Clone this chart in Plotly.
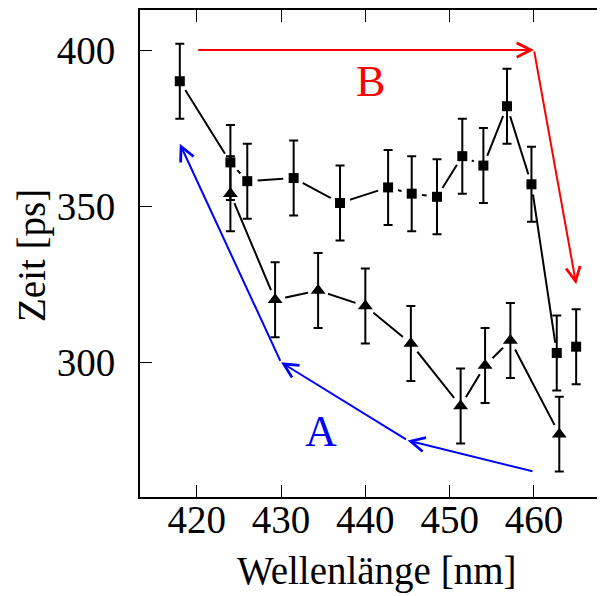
import plotly.graph_objects as go

# ---- data ----
wl_sq = [418, 424, 426, 431.5, 437, 442.7, 445.5, 448.5, 451.5, 454, 456.8, 459.7, 462.7, 465]
t_sq = [390, 364, 358, 359, 351, 356, 354, 353, 366, 363, 382, 357, 303, 305]
err_sq = [12, 12, 12, 12, 12, 12, 12, 12, 12, 12, 12, 12, 12, 12]

wl_tri = [424, 429.3, 434.4, 440, 445.4, 451.3, 454.2, 457.2, 463]
t_tri = [354, 320, 323, 318, 306, 286, 299, 307, 277]
err_tri = [12, 12, 12, 12, 12, 12, 12, 12, 12]

arrow_B_x = [420, 460, 465]
arrow_B_y = [400, 400, 325]
arrow_A_x = [460, 445, 430, 418]
arrow_A_y = [265, 275, 300, 370]

label_A = (434.8, 277.8)
label_B = (440.65, 389.85)

x_ticks = [420, 430, 440, 450, 460]
y_ticks = [300, 350, 400]

FONT = "Liberation Serif"

# page body has an 8px default margin; the figure is sized to fill the rest
W, H = 597, 588
ML, MT, MB = 132, 2, 99
PW = W - ML
PH = H - MT - MB

fig = go.Figure()

# connecting lines with white halos around points (gap effect)
for xs, ys in [(wl_sq, t_sq), (wl_tri, t_tri)]:
    fig.add_trace(go.Scatter(
        x=xs, y=ys, mode="lines+markers",
        line=dict(color="black", width=2),
        marker=dict(symbol="circle", size=21, color="white", line=dict(width=0)),
        showlegend=False, hoverinfo="skip",
    ))

# markers with error bars
fig.add_trace(go.Scatter(
    x=wl_sq, y=t_sq, mode="markers",
    marker=dict(symbol="square", size=10, color="black"),
    error_y=dict(type="data", array=err_sq, color="black", thickness=2, width=4.5),
    showlegend=False,
))
fig.add_trace(go.Scatter(
    x=wl_tri, y=t_tri, mode="markers",
    marker=dict(symbol="triangle-up", size=13, color="black"),
    error_y=dict(type="data", array=err_tri, color="black", thickness=2, width=4.5),
    showlegend=False,
))

annotations = []

def add_path(xs, ys, color):
    for i in range(len(xs) - 1):
        annotations.append(dict(
            x=xs[i + 1], y=ys[i + 1], ax=xs[i], ay=ys[i],
            xref="x", yref="y", axref="x", ayref="y",
            text="", showarrow=True, arrowhead=5, arrowsize=1.4,
            arrowwidth=2, arrowcolor=color, standoff=0, startstandoff=0,
        ))

add_path(arrow_B_x, arrow_B_y, "#ff0000")
add_path(arrow_A_x, arrow_A_y, "#0000ff")

annotations.append(dict(x=label_B[0], y=label_B[1], xref="x", yref="y", text="B",
                        showarrow=False, font=dict(family=FONT, size=44, color="#ff0000")))
annotations.append(dict(x=label_A[0], y=label_A[1], xref="x", yref="y", text="A",
                        showarrow=False, font=dict(family=FONT, size=44, color="#0000ff")))

# axis titles (positions in page pixels converted to paper coords)
def px_to_paper_x(px):
    return (px - 8 - ML) / PW

def px_to_paper_y(py):
    return (H - MB + 8 - py) / PH

annotations.append(dict(x=px_to_paper_x(376.5), y=px_to_paper_y(571), xref="paper", yref="paper",
                        text="Wellenlänge [nm]", showarrow=False,
                        xanchor="center", yanchor="middle",
                        font=dict(family=FONT, size=39, color="black")))
annotations.append(dict(x=px_to_paper_x(32.5), y=px_to_paper_y(255.5), xref="paper", yref="paper",
                        text="Zeit [ps]", showarrow=False, textangle=-90,
                        xanchor="center", yanchor="middle",
                        font=dict(family=FONT, size=39, color="black")))

fig.update_layout(
    width=W, height=H,
    margin=dict(l=ML, r=0, t=MT, b=MB),
    paper_bgcolor="white", plot_bgcolor="white",
    font=dict(family=FONT, size=39, color="black"),
    annotations=annotations,
    showlegend=False,
)
fig.update_xaxes(
    range=[413.28, 468.42], tickvals=x_ticks, ticktext=[str(v) for v in x_ticks],
    ticks="inside", ticklen=12, tickwidth=1, tickcolor="black",
    showline=True, linecolor="black", linewidth=2, mirror="ticks",
    showgrid=False, zeroline=False, ticklabelstandoff=-13, automargin=False,
    tickfont=dict(family=FONT, size=39, color="black"),
)
fig.update_yaxes(
    range=[256.87, 412.81], tickvals=y_ticks, ticktext=[str(v) for v in y_ticks],
    ticks="inside", ticklen=12, tickwidth=1, tickcolor="black",
    showline=True, linecolor="black", linewidth=2, mirror=False,
    showgrid=False, zeroline=False, ticklabelstandoff=15, automargin=False,
    tickfont=dict(family=FONT, size=39, color="black"),
)

fig.write_html("out.html")
